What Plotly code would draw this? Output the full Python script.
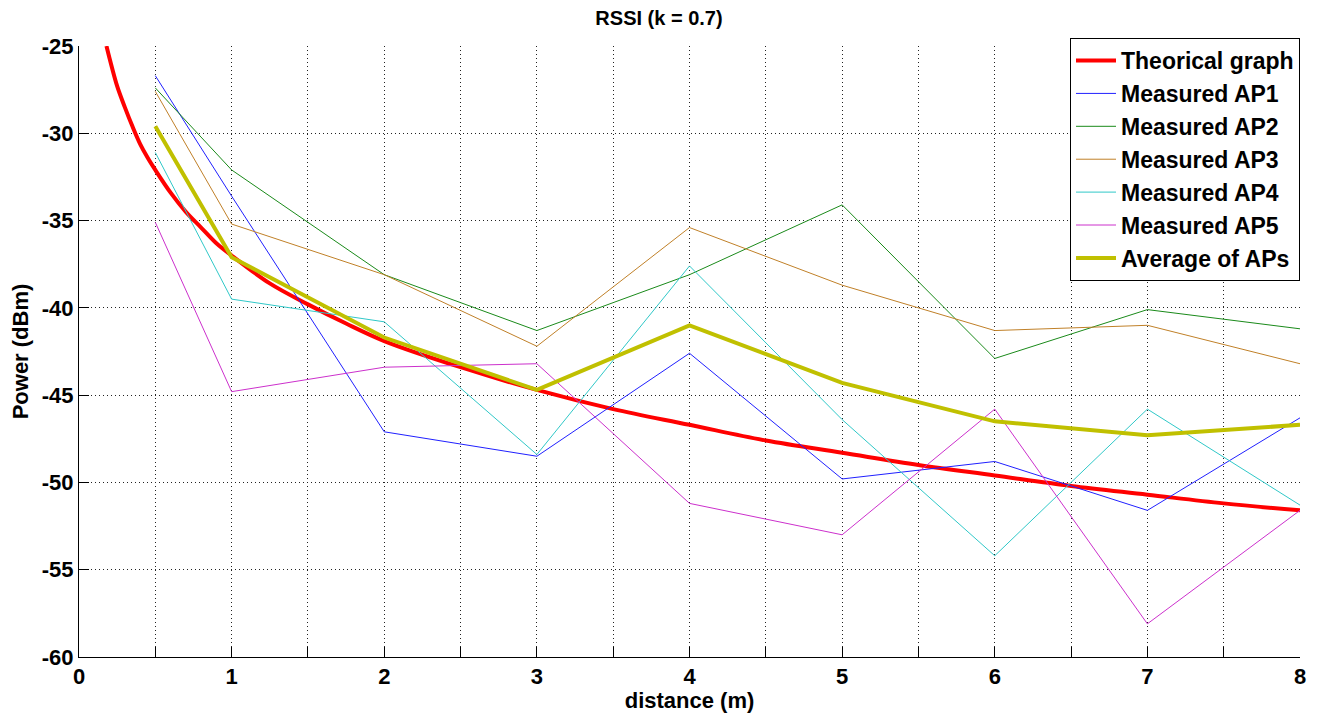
import plotly.graph_objects as go

# Theoretical curve, values
theo_d = [0.18, 0.2, 0.25, 0.3, 0.35, 0.4, 0.45, 0.5, 0.6, 0.7, 0.8, 0.9, 1.0, 1.25, 1.5, 1.75,
          2.0, 2.5, 3.0, 3.5, 4.0, 4.5, 5.0, 5.5, 6.0, 6.5, 7.0, 7.5, 8.0]
theo_p = [-25.0, -25.7, -27.3, -28.5, -29.6, -30.6, -31.4, -32.1, -33.4, -34.5, -35.4, -36.3, -37.0,
          -38.6, -39.8, -40.9, -41.9, -43.4, -44.7, -45.8, -46.7, -47.6, -48.3, -49.0, -49.6,
          -50.2, -50.7, -51.2, -51.6]

dist = [0.5, 1, 2, 3, 4, 5, 6, 7, 8]
ap1 = [-26.7, -33.6, -47.1, -48.5, -42.6, -49.8, -48.8, -51.6, -46.3]
ap2 = [-27.4, -32.1, -38.1, -41.3, -38.1, -34.1, -42.9, -40.1, -41.2]
ap3 = [-27.6, -35.2, -38.1, -42.2, -35.4, -38.7, -41.3, -41.0, -43.2]
ap4 = [-31.1, -39.5, -40.8, -48.4, -37.6, -46.4, -54.2, -45.8, -51.3]
ap5 = [-35.1, -44.8, -43.4, -43.2, -51.2, -53.0, -45.8, -58.1, -51.6]
avg = [-29.6, -37.1, -41.7, -44.7, -41.0, -44.3, -46.5, -47.3, -46.7]

x_tickvals = [0, 0.5, 1, 1.5, 2, 2.5, 3, 3.5, 4, 4.5, 5, 5.5, 6, 6.5, 7, 7.5, 8]
x_ticktext = ["0", "", "1", "", "2", "", "3", "", "4", "", "5", "", "6", "", "7", "", "8"]
y_tickvals = [-60, -55, -50, -45, -40, -35, -30, -25]

FONT = "Liberation Sans, Arial, sans-serif"
GRID_DASH = "1px,3px"

fig = go.Figure()
fig.add_trace(go.Scatter(x=theo_d, y=theo_p, mode="lines", name="<b>Theorical graph</b>",
                         line=dict(color="#ff0000", width=4, shape="spline")))
fig.add_trace(go.Scatter(x=dist, y=ap1, mode="lines", name="<b>Measured AP1</b>",
                         line=dict(color="#2020ff", width=1)))
fig.add_trace(go.Scatter(x=dist, y=ap2, mode="lines", name="<b>Measured AP2</b>",
                         line=dict(color="#1a8a1a", width=1)))
fig.add_trace(go.Scatter(x=dist, y=ap3, mode="lines", name="<b>Measured AP3</b>",
                         line=dict(color="#c08028", width=1)))
fig.add_trace(go.Scatter(x=dist, y=ap4, mode="lines", name="<b>Measured AP4</b>",
                         line=dict(color="#30c8c8", width=1)))
fig.add_trace(go.Scatter(x=dist, y=ap5, mode="lines", name="<b>Measured AP5</b>",
                         line=dict(color="#cc30cc", width=1)))
fig.add_trace(go.Scatter(x=dist, y=avg, mode="lines", name="<b>Average of APs</b>",
                         line=dict(color="#c0c000", width=4)))

fig.update_layout(
    width=1302, height=705,
    margin=dict(l=71, r=10, t=38, b=56),
    paper_bgcolor="white", plot_bgcolor="white",
    font=dict(family=FONT, color="black", size=22),
    title=dict(text="<b>RSSI (k = 0.7)</b>", x=0.5, xanchor="center", y=0.986, yanchor="middle",
               font=dict(size=20, family=FONT)),
    showlegend=True,
    legend=dict(x=1.0, xanchor="right", y=1.013, yanchor="top",
                bgcolor="white", bordercolor="black", borderwidth=1,
                font=dict(size=23, family=FONT), tracegroupgap=0, itemwidth=40),
    xaxis=dict(range=[0, 8], tickmode="array", tickvals=x_tickvals,
               ticktext=[f"<b>{t}</b>" if t else "" for t in x_ticktext],
               showgrid=True, gridcolor="#222222", griddash=GRID_DASH, gridwidth=1,
               showline=True, linecolor="black", linewidth=1,
               ticks="inside", ticklen=10, tickcolor="black",
               zeroline=False, mirror=False, automargin=False,
               title=dict(text="<b>distance (m)</b>", standoff=2, font=dict(size=22)),
               tickfont=dict(size=22)),
    yaxis=dict(range=[-60, -25], tickmode="array", tickvals=y_tickvals,
               ticktext=[f"<b>{v}</b>" for v in y_tickvals],
               showgrid=True, gridcolor="#222222", griddash=GRID_DASH, gridwidth=1,
               showline=True, linecolor="black", linewidth=1,
               ticks="inside", ticklen=10, tickcolor="black",
               zeroline=False, automargin=False,
               title=dict(text="<b>Power (dBm)</b>", standoff=8, font=dict(size=22)),
               tickfont=dict(size=22)),
)

fig.write_html("out.html")
